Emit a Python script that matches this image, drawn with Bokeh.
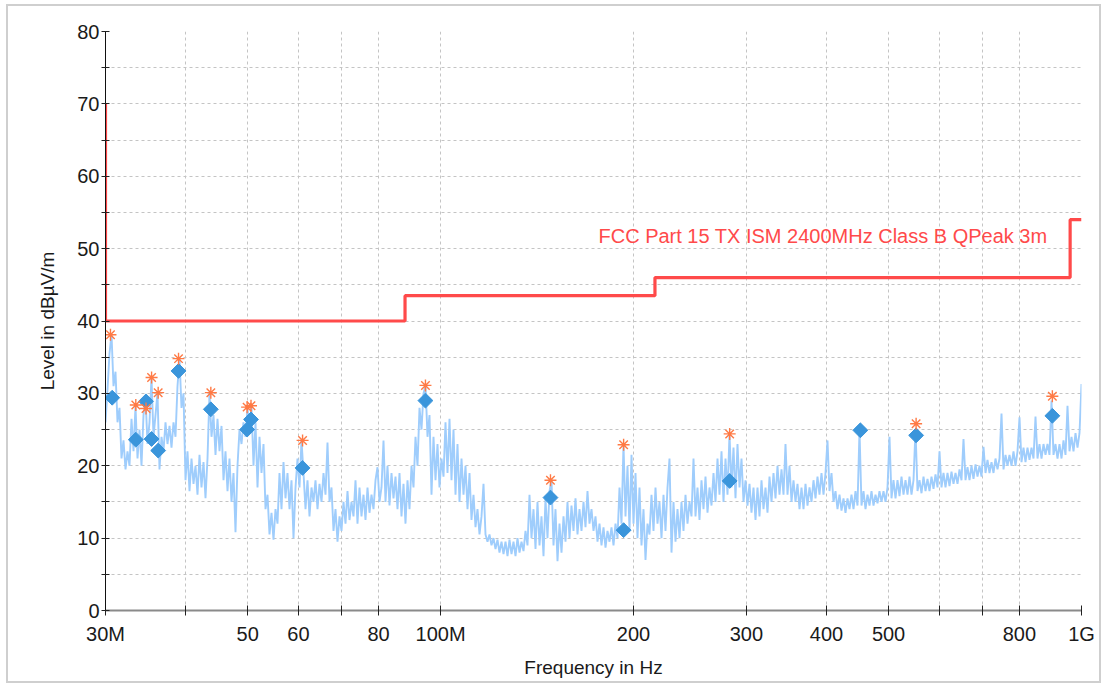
import numpy as np
from bokeh.plotting import figure
from bokeh.layouts import column
from bokeh.models import FixedTicker, Range1d, Label
from bokeh.embed import file_html
from bokeh.resources import INLINE

# ---------------- data ----------------
# Axis ticks (MHz)
x_ticks = [30, 40, 50, 60, 70, 80, 100, 200, 300, 400, 500, 600, 700, 800, 1000]
x_tick_labels = ["30M", "", "50", "60", "", "80", "100M", "200", "300", "400", "500", "", "", "800", "1G"]
y_ticks = [0, 5, 10, 15, 20, 25, 30, 35, 40, 45, 50, 55, 60, 65, 70, 75, 80]

# Limit line: FCC Part 15 class B (MHz, dBuV/m)
limit_start = [30, 88, 216, 960]
limit_end = [88, 216, 960, 1000]
limit_level = [40, 43.5, 46, 54]
limit_top = 70
limit_name = "FCC Part 15 TX ISM 2400MHz Class B QPeak 3m"

# Peak markers (asterisks)
peak_freq = [30.54, 33.45, 34.7, 35.4, 36.25, 39.0, 43.8, 49.9, 50.6, 60.9, 94.7, 148.4, 193.0, 282.5, 552.0, 900.6]
peak_level = [38.1, 28.4, 27.9, 32.2, 30.1, 34.8, 30.1, 28.1, 28.3, 23.5, 31.1, 18.0, 22.9, 24.4, 25.8, 29.6]

# Quasi-peak markers (diamonds)
qp_freq = [30.73, 33.45, 34.7, 35.4, 36.25, 39.0, 43.8, 49.9, 50.6, 60.9, 94.7, 148.4, 193.0, 282.5, 451.8, 552.0, 900.6]
qp_level = [29.4, 23.6, 28.9, 23.7, 22.1, 33.1, 27.8, 25.0, 26.4, 19.7, 29.0, 15.6, 11.1, 17.9, 24.9, 24.2, 26.9]

# Measured trace (dBuV/m), sweep points from 30 MHz to 1 GHz
trace_level = [
    26.0, 30.5, 35.5, 38.2, 31.0, 33.0, 26.0, 28.0, 21.0, 23.5, 19.5, 22.0, 20.0, 26.5, 22.0, 28.3, 21.0, 25.0, 20.0, 27.0,
    29.5, 23.0, 26.0, 32.2, 24.0, 27.0, 30.1, 19.5, 24.0, 22.0, 26.0, 23.0, 25.5, 22.5, 26.0, 24.0, 31.0, 34.8, 28.0, 30.0,
    18.0, 22.0, 16.5, 21.0, 17.5, 20.0, 16.0, 21.5, 17.0, 20.5, 15.5, 21.0, 30.1, 24.0, 27.0, 21.5, 26.5, 22.0, 25.5, 18.0,
    22.0, 16.5, 21.0, 15.0, 19.0, 10.8, 20.0, 25.0, 23.0, 26.0, 24.0, 28.0, 25.0, 28.2, 20.0, 26.0, 17.0, 24.0, 19.0, 23.0,
    14.0, 16.0, 10.5, 13.5, 9.8, 14.0, 12.0, 19.0, 14.0, 20.5, 15.5, 19.0, 14.0, 18.0, 10.0, 17.0, 21.0, 17.0, 23.5, 19.0,
    14.0, 18.0, 13.0, 17.0, 15.0, 18.0, 14.0, 17.5, 15.0, 19.0, 16.0, 23.2, 15.0, 17.0, 11.0, 14.0, 9.5, 13.0, 11.0, 15.0,
    12.0, 16.5, 12.5, 15.0, 13.0, 18.0, 12.0, 17.0, 13.0, 16.0, 12.5, 17.0, 13.5, 16.0, 14.0, 18.0, 19.8, 15.0, 17.0, 23.5,
    15.0, 20.0, 14.5, 19.0, 15.5, 18.5, 14.0, 19.0, 13.0, 17.5, 12.0, 18.0, 14.0, 20.0, 17.0, 24.0, 20.0, 28.0, 25.0, 30.0,
    31.1, 24.0, 27.0, 16.0, 24.0, 18.0, 23.0, 17.0, 21.0, 18.5, 26.0, 19.0, 26.5, 18.0, 25.0, 16.0, 23.0, 15.0, 21.0, 16.0,
    20.0, 14.0, 19.0, 12.5, 16.0, 11.5, 14.0, 10.5, 13.0, 17.5, 10.5, 9.5, 10.5, 9.0, 10.0, 8.5, 9.8, 8.0, 9.5, 7.8,
    9.5, 7.5, 9.8, 7.8, 9.5, 7.5, 10.0, 8.0, 9.5, 8.2, 11.0, 9.0, 16.0, 10.0, 14.0, 8.5, 15.0, 9.0, 13.0, 7.5,
    15.5, 10.0, 16.5, 18.0, 9.0, 14.0, 6.8, 12.0, 8.0, 13.0, 9.5, 15.0, 10.0, 14.5, 11.0, 15.5, 10.5, 14.0, 11.0, 15.0,
    11.5, 16.5, 12.0, 14.0, 11.0, 13.0, 9.5, 12.0, 9.0, 11.5, 8.7, 11.0, 9.5, 11.5, 9.0, 12.0, 10.0, 17.0, 12.0, 22.9,
    13.0, 20.0, 11.0, 21.5, 12.0, 19.0, 10.0, 17.0, 9.0, 14.0, 7.0, 12.0, 10.5, 16.0, 11.0, 17.0, 12.0, 15.0, 10.0, 16.0,
    11.0, 17.0, 21.0, 8.0, 15.0, 9.5, 14.0, 10.0, 15.0, 11.0, 16.0, 12.0, 15.0, 13.0, 21.0, 13.0, 17.0, 12.5, 18.0, 14.0,
    18.5, 13.5, 17.0, 14.5, 19.0, 15.0, 21.0, 16.0, 22.0, 15.0, 21.0, 16.0, 24.4, 17.0, 22.5, 15.5, 23.0, 17.0, 21.0, 15.0,
    18.0, 14.5, 17.5, 13.5, 17.0, 12.5, 17.0, 13.0, 18.0, 14.0, 17.0, 13.5, 18.5, 15.0, 19.0, 15.5, 20.0, 16.0, 19.5, 16.0,
    23.0, 16.0, 20.0, 15.0, 18.0, 15.0, 17.5, 14.0, 17.0, 14.0, 17.5, 14.5, 17.0, 15.0, 18.0, 15.5, 18.5, 16.0, 19.0, 16.0,
    19.0, 23.5, 16.5, 19.0, 15.0, 16.5, 14.0, 16.0, 13.8, 15.5, 13.5, 15.5, 14.0, 16.0, 14.0, 16.5, 14.5, 24.9, 14.5, 16.5,
    14.0, 16.0, 14.5, 16.5, 14.5, 16.0, 14.8, 16.5, 15.0, 16.5, 15.0, 17.0, 24.0, 15.5, 18.0, 15.5, 18.0, 15.8, 18.5, 16.0,
    18.0, 16.0, 18.5, 16.0, 18.0, 25.0, 16.5, 18.0, 16.2, 18.5, 16.5, 18.2, 16.5, 18.5, 16.8, 18.8, 17.0, 22.0, 17.0, 19.0,
    17.0, 19.0, 17.2, 19.2, 17.5, 19.0, 17.5, 19.5, 18.0, 23.7, 18.0, 19.8, 18.0, 20.0, 18.2, 20.2, 18.5, 20.0, 18.5, 22.6,
    19.0, 20.8, 19.0, 20.5, 19.0, 21.0, 19.5, 21.0, 27.2, 19.5, 21.5, 20.0, 21.5, 20.0, 22.0, 20.0, 22.0, 26.7, 20.5, 22.5,
    20.5, 22.5, 20.8, 22.5, 21.0, 26.8, 21.0, 23.0, 21.0, 23.0, 21.5, 23.0, 21.5, 29.0, 21.5, 23.0, 21.0, 23.0, 21.0, 23.5,
    21.5, 28.3, 22.0, 24.0, 22.0, 24.5, 22.5, 24.5, 31.3,
]
trace_freq = np.geomspace(30, 1000, len(trace_level))

# ---------------- figure ----------------
FONT = "Liberation Sans"
p = figure(width=1091, height=675, x_axis_type="log",
           x_range=Range1d(30, 1000), y_range=Range1d(0, 80),
           output_backend="svg", toolbar_location=None,
           min_border_left=97, min_border_right=18, min_border_top=25, min_border_bottom=71,
           background_fill_color="white", border_fill_color="white")
p.outline_line_color = None

# axes
p.xaxis.ticker = FixedTicker(ticks=x_ticks, minor_ticks=[])
p.xaxis.major_label_overrides = {t: l for t, l in zip(x_ticks, x_tick_labels)}
p.yaxis.ticker = FixedTicker(ticks=y_ticks, minor_ticks=[])
p.yaxis.major_label_overrides = {t: (str(t) if t % 10 == 0 else "") for t in y_ticks}

p.xaxis.axis_label = "Frequency in Hz"
p.yaxis.axis_label = "Level in dBµV/m"
for ax in (p.xaxis[0], p.yaxis[0]):
    ax.major_label_text_font = FONT
    ax.major_label_text_font_size = "20px"
    ax.major_label_text_color = "#1a1a1a"
    ax.axis_label_text_font = FONT
    ax.axis_label_text_font_size = "19px"
    ax.axis_label_text_font_style = "normal"
    ax.axis_label_text_color = "#1a1a1a"
    ax.minor_tick_line_color = None
    ax.major_tick_line_color = "#222222"

p.xaxis.axis_line_color = "#8a8a8a"
p.xaxis.axis_line_width = 2
p.xaxis.major_tick_in = 5
p.xaxis.major_tick_out = 5
p.xaxis.major_label_standoff = 7
p.xaxis.axis_label_standoff = 9

p.yaxis.axis_line_color = "#111111"
p.yaxis.axis_line_width = 1
p.yaxis.major_tick_in = 4
p.yaxis.major_tick_out = 4
p.yaxis.major_label_standoff = 2
p.yaxis.axis_label_standoff = 16

# grid
for g in (p.xgrid[0], p.ygrid[0]):
    g.grid_line_color = "#c4c4c4"
    g.grid_line_dash = "3 3"
    g.grid_line_width = 1

# trace
p.line(trace_freq, trace_level, line_color="#9fcdfc", line_width=1.9)

# limit line (step)
lx = [limit_start[0]]
ly = [limit_top]
for s, e, lv in zip(limit_start, limit_end, limit_level):
    lx += [s, e]
    ly += [lv, lv]
p.line(lx, ly, line_color="#ff4a4a", line_width=3.2)

p.add_layout(Label(x=885, y=51.8, text=limit_name, text_align="right", text_baseline="middle",
                   text_font=FONT, text_font_size="20px", text_color="#ff4a4a"))

# markers
p.scatter(qp_freq, qp_level, marker="square", angle=np.pi / 4, size=10.5,
          fill_color="#3a95db", line_color="#3a95db")
p.scatter(peak_freq, peak_level, marker="asterisk", size=12,
          line_color="#ff7a45", line_width=1.4)

layout = column(p, margin=(4, 0, 0, 6),
                styles={"border": "2px solid #cfcfcf"})

open("out.html", "w").write(file_html(layout, INLINE))
